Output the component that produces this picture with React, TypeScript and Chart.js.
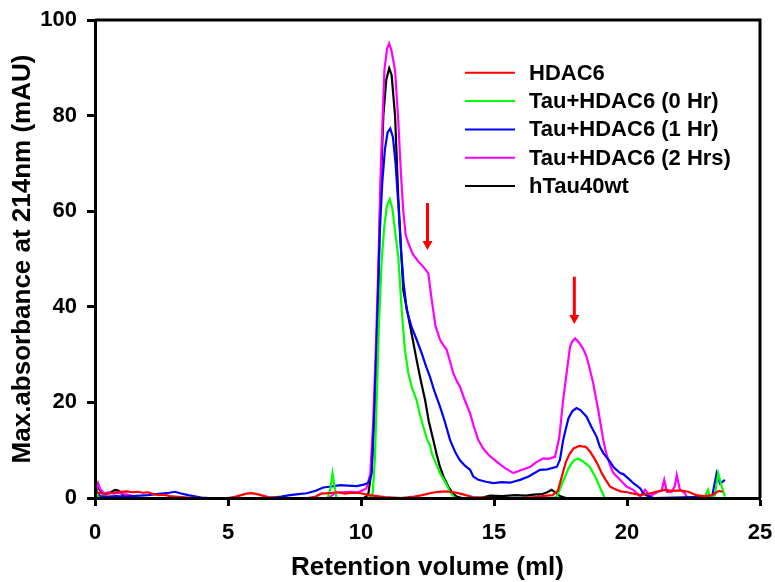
import React, { useEffect, useRef } from "react";
import { Chart, registerables } from "chart.js";

Chart.register(...registerables);

// ---- Data ----
const hdac6X = [0.05,0.2,0.4,0.6,0.8,1.0,1.2,1.4,1.6,1.8,2.0,2.2,2.4,2.6,2.8,3.0,3.5,4.0,5.0,5.3,5.5,5.7,5.9,6.1,6.3,6.5,7.0,8.0,8.3,8.5,8.8,9.1,9.4,9.7,10.0,10.3,10.6,10.9,11.5,12.0,12.3,12.6,12.9,13.2,13.5,13.8,14.2,15.0,16.0,16.5,17.0,17.2,17.4,17.55,17.7,17.85,18.0,18.1,18.2,18.3,18.45,18.6,18.75,18.9,19.05,19.2,19.36,19.5,19.75,20.0,20.5,20.8,21.1,21.4,21.7,22.0,22.3,22.6,22.9,23.2,23.45,23.6];
const hdac6Y = [1.2,1.0,0.8,1.0,1.2,1.3,1.4,1.2,1.3,1.1,1.2,0.8,0.6,0.7,0.4,0.3,0.1,0,0,0.3,0.6,0.9,1.0,0.8,0.5,0.2,0,0,0.3,0.9,1.0,1.2,0.9,1.1,1.0,0.6,0.4,0.2,0,0.3,0.6,1.0,1.3,1.4,1.2,0.8,0.2,0,0,0.2,0.5,0.6,1.5,4.5,7.5,9.3,10.4,10.6,10.9,10.8,10.7,9.8,8.5,7.0,5.2,3.8,2.4,2.0,1.4,1.2,0.6,0.9,1.3,1.7,1.5,1.6,1.3,0.6,0.4,0.6,1.5,1.3];

const tau0X = [0.0,0.05,0.1,0.15,8.75,8.85,8.93,9.0,9.08,10.3,10.44,10.52,10.59,10.68,10.78,10.88,10.97,11.08,11.18,11.3,11.4,11.53,11.65,11.78,11.92,12.09,12.2,12.34,12.5,12.6,12.66,12.8,12.97,13.1,13.22,13.35,13.53,17.2,17.36,17.5,17.67,17.8,17.92,18.05,18.17,18.3,18.45,18.6,18.75,18.86,19.0,19.17,22.9,23.05,23.12,23.3,23.43,23.56,23.68];
const tau0Y = [0,1.5,0.5,0,0,2.0,5.2,2.6,0,0,1,8,20.5,37.2,50,57,61,62.5,60.5,55,50.5,39.3,31,26.1,23,20.5,17.8,14.9,12,11,9.3,7.5,5.2,4,2.8,1.2,0,0,0.3,2.2,4.5,6.2,7.3,8.0,8.2,7.8,7.2,6.5,5.0,3.8,2.0,0,0,1.7,0,0.5,5.2,2.4,0.3];

const tau1X = [0.05,0.2,0.5,0.8,1.1,1.4,1.7,2.0,2.3,2.6,2.8,3.0,3.2,3.5,3.8,4.0,4.3,6.5,7.0,7.33,7.65,7.96,8.3,8.58,8.9,9.21,9.5,9.84,10.1,10.28,10.4,10.5,10.6,10.7,10.8,10.9,11.0,11.1,11.2,11.3,11.42,11.5,11.6,11.72,11.9,12.1,12.28,12.45,12.59,12.75,12.97,13.15,13.35,13.55,13.72,13.9,14.1,14.22,14.41,14.7,14.97,15.3,15.6,15.98,16.3,16.73,17.0,17.36,17.48,17.6,17.7,17.8,17.95,18.1,18.25,18.48,18.65,18.86,18.98,19.11,19.36,19.49,19.74,19.86,20.11,20.24,20.5,20.61,20.74,21.0,23.2,23.37,23.5,23.68];
const tau1Y = [1.0,0.4,0.3,0.4,0.3,0.4,0.5,0.6,0.8,1.0,1.1,1.3,1.0,0.6,0.3,0.1,0,0,0.3,0.6,0.8,1.0,1.5,2.2,2.4,2.7,2.6,2.5,2.8,3.2,5,18,35,55,66,73,76.5,77.3,75.5,70,60,52,45,39.3,35.8,33,30.3,27.5,25.4,22.5,19.1,16,12.1,9.5,7.9,6.8,5.9,4.5,3.8,3.4,3.1,3.3,3.2,3.8,4.5,5.9,6.0,6.5,8,12.1,14.5,16.7,18.2,18.8,18.4,17,15,12.8,10.7,9.4,7.6,6.5,5.2,5.0,3.8,3.1,2.0,1.0,0.5,0,0.3,5.2,3.0,3.8];

const tau2X = [0.05,0.12,0.2,0.35,0.5,0.7,0.9,1.1,1.3,1.5,1.6,8.7,8.85,9.05,9.3,9.6,9.9,10.2,10.35,10.45,10.55,10.65,10.75,10.88,10.98,11.06,11.15,11.28,11.4,11.5,11.59,11.68,11.78,11.95,12.15,12.34,12.53,12.66,12.8,12.97,13.1,13.22,13.35,13.47,13.6,13.72,13.9,14.1,14.25,14.41,14.6,14.8,15.1,15.4,15.73,16.0,16.35,16.6,16.85,17.05,17.29,17.45,17.6,17.75,17.86,17.95,18.05,18.2,18.35,18.48,18.6,18.73,18.83,18.92,19.02,19.11,19.2,19.3,19.4,19.49,19.74,19.98,20.24,20.5,20.68,20.86,21.17,21.3,21.4,21.5,21.68,21.8,21.87,21.99,22.18,22.26];
const tau2Y = [1.5,3.0,1.8,1.0,1.2,0.9,1.1,0.8,0.6,0.2,0,0,0.3,1.1,1.2,1.3,1.2,2.0,5,15,30,48,70,89.5,94,95.1,93.5,89.5,79,68,60,55,53.3,51,49.5,48.4,47,41.4,36,33.1,32,31,28.5,26.1,24.5,23.3,20.5,17.7,14.8,12.1,10.3,9.0,7.6,6.3,5.2,5.8,6.5,7.5,8.3,8.2,8.6,12.5,20.5,27,31.7,32.8,33.4,32.5,31.2,29.6,27,24,21,18.4,15,12.1,9.8,7.9,6.3,5.2,3.8,2.4,1.7,0.3,1.7,0.4,1.3,1.5,3.8,1.3,1.3,2.5,4.8,1.7,1.0,0];

const htauX = [0.05,0.12,0.2,0.3,0.45,0.6,0.75,0.85,0.95,1.05,1.2,10.1,10.2,10.28,10.4,10.53,10.64,10.72,10.84,10.95,11.06,11.15,11.28,11.4,11.59,11.78,11.95,12.09,12.25,12.41,12.55,12.72,12.85,12.97,13.1,13.28,13.45,13.6,13.8,14.5,14.85,15.3,15.8,16.2,16.5,16.8,17.0,17.17,17.3,17.48,17.7];
const htauY = [0.5,2.8,1.5,1.0,1.0,1.2,1.7,1.6,1.3,0.5,0,0,0.3,1.0,6,20.5,40,62,80,87.5,89.9,88.5,80,63,43.5,37.9,33,28.9,24.5,20.5,16,12.1,9,6.5,4.5,2.4,1.0,0.3,0,0,0.5,0.4,0.6,0.5,0.7,0.8,1.2,1.7,1.2,0.4,0];

const seriesLabels = ["HDAC6", "Tau+HDAC6 (0 Hr)", "Tau+HDAC6 (1 Hr)", "Tau+HDAC6 (2 Hrs)", "hTau40wt"];
const seriesColors = ["#ff0000", "#00ff00", "#0000ff", "#ff00ff", "#000000"];
const seriesXs = [hdac6X, tau0X, tau1X, tau2X, htauX];
const seriesYs = [hdac6Y, tau0Y, tau1Y, tau2Y, htauY];

// Red arrows (x position, start value, tip value)
const arrowX = [12.5, 18.02];
const arrowFrom = [61.7, 46.3];
const arrowTo = [51.9, 36.4];

const xTitle = "Retention volume (ml)";
const yTitle = "Max.absorbance at 214nm (mAU)";

const FONT = "'Liberation Sans', Arial, sans-serif";

export default function App() {
  const ref = useRef<HTMLCanvasElement>(null);

  useEffect(() => {
    if (!ref.current) return;

    const overlay = {
      id: "overlay",
      afterDatasetsDraw(chart: any) {
        const { ctx, chartArea: a, scales } = chart;
        ctx.save();
        // top and right frame
        ctx.strokeStyle = "#000";
        ctx.lineWidth = 3;
        ctx.beginPath();
        ctx.moveTo(a.left, a.top);
        ctx.lineTo(a.right, a.top);
        ctx.lineTo(a.right, a.bottom);
        ctx.stroke();

        // arrows
        ctx.strokeStyle = "#ff0000";
        ctx.fillStyle = "#ff0000";
        arrowX.forEach((v, i) => {
          const x = scales.x.getPixelForValue(v);
          const y0 = scales.y.getPixelForValue(arrowFrom[i]);
          const y1 = scales.y.getPixelForValue(arrowTo[i]);
          ctx.lineWidth = 3;
          ctx.beginPath();
          ctx.moveTo(x, y0);
          ctx.lineTo(x, y1 - 7);
          ctx.stroke();
          ctx.beginPath();
          ctx.moveTo(x - 5, y1 - 9);
          ctx.lineTo(x + 5, y1 - 9);
          ctx.lineTo(x, y1);
          ctx.closePath();
          ctx.fill();
        });

        // legend
        ctx.font = `bold 22px ${FONT}`;
        ctx.textBaseline = "middle";
        ctx.textAlign = "left";
        seriesLabels.forEach((label, i) => {
          const y = 72.7 + i * 28.35;
          ctx.strokeStyle = seriesColors[i];
          ctx.lineWidth = 2;
          ctx.beginPath();
          ctx.moveTo(465, y);
          ctx.lineTo(515, y);
          ctx.stroke();
          ctx.fillStyle = "#000";
          ctx.fillText(label, 529, y + 1);
        });
        ctx.restore();
      },
    };

    const chart = new Chart(ref.current, {
      type: "line",
      data: {
        datasets: seriesLabels.map((label, i) => ({
          label,
          data: seriesXs[i].map((x, j) => ({ x, y: seriesYs[i][j] })),
          borderColor: seriesColors[i],
          backgroundColor: seriesColors[i],
          borderWidth: 2.2,
          pointRadius: 0,
          tension: 0,
          fill: false,
        })),
      },
      options: {
        animation: false,
        responsive: true,
        maintainAspectRatio: false,
        layout: { padding: { left: 0, top: 20, right: 15, bottom: 0 } },
        plugins: {
          legend: { display: false },
          tooltip: { enabled: false },
        },
        scales: {
          x: {
            type: "linear",
            min: 0,
            max: 25,
            ticks: {
              stepSize: 5,
              color: "#000",
              padding: 14,
              font: { family: FONT, size: 22, weight: "bold" },
            },
            grid: {
              drawOnChartArea: false,
              drawTicks: true,
              tickLength: 8,
              tickWidth: 3,
              tickColor: "#000",
            },
            border: { display: true, color: "#000", width: 3, z: 1 },
            title: {
              display: true,
              text: xTitle,
              color: "#000",
              padding: { top: 0, bottom: 1 },
              font: { family: FONT, size: 26, weight: "bold", lineHeight: 1 },
            },
            afterFit: (s: any) => {
              s.height = 84;
              s.paddingLeft = 0;
              s.paddingRight = 0;
            },
          },
          y: {
            type: "linear",
            min: 0,
            max: 100,
            ticks: {
              stepSize: 20,
              color: "#000",
              padding: 10,
              font: { family: FONT, size: 22, weight: "bold" },
            },
            grid: {
              drawOnChartArea: false,
              drawTicks: true,
              tickLength: 8,
              tickWidth: 3,
              tickColor: "#000",
            },
            border: { display: true, color: "#000", width: 3, z: 1 },
            title: {
              display: true,
              text: yTitle,
              color: "#000",
              padding: { top: 10, bottom: 0 },
              font: { family: FONT, size: 26, weight: "bold", lineHeight: 1 },
            },
            afterFit: (s: any) => {
              s.width = 95;
              s.paddingTop = 0;
              s.paddingBottom = 0;
            },
          },
        },
      },
      plugins: [overlay],
    });

    return () => chart.destroy();
  }, []);

  return (
    <div style={{ position: "absolute", left: 0, top: 0, width: 775, height: 582, background: "#fff" }}>
      <canvas ref={ref} />
    </div>
  );
}
